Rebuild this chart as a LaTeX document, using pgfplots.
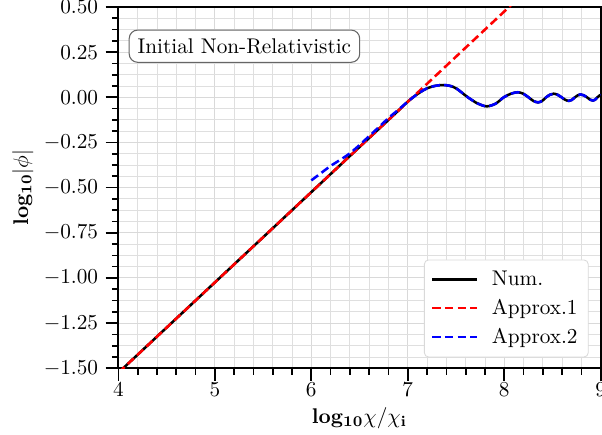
\documentclass[border=0pt]{standalone}
\usepackage{pgfplots}
\pgfplotsset{compat=1.18}
\usetikzlibrary{calc}

% transition and oscillation of the numerical solution
\pgfplotstableread{
x y
4.000 -1.525
5.000 -1.025
6.000 -0.525
6.500 -0.275
6.800 -0.125
6.900 -0.075
7.000 -0.024
7.100 0.018
7.200 0.050
7.290 0.064
7.369 0.068
7.440 0.063
7.506 0.048
7.623 0.000
7.727 -0.035
7.820 -0.050
7.911 -0.035
7.995 0.000
8.070 0.020
8.140 0.028
8.197 0.020
8.251 0.000
8.302 -0.020
8.350 -0.028
8.393 -0.020
8.434 0.000
8.473 0.014
8.511 0.020
8.553 0.014
8.594 0.000
8.633 -0.014
8.670 -0.020
8.702 -0.014
8.732 0.000
8.762 0.011
8.790 0.016
8.825 0.011
8.858 0.000
8.889 -0.013
8.920 -0.018
8.943 -0.013
8.966 0.000
8.988 0.010
9.000 0.013
}\numdata

\pgfplotstableread{
x y
6.000 -0.460
6.100 -0.420
6.200 -0.380
6.400 -0.310
6.600 -0.215
6.800 -0.115
6.900 -0.070
7.000 -0.024
7.100 0.018
7.200 0.050
7.290 0.064
7.369 0.068
7.440 0.063
7.506 0.048
7.623 0.000
7.727 -0.035
7.820 -0.050
7.911 -0.035
7.995 0.000
8.070 0.020
8.140 0.028
8.197 0.020
8.251 0.000
8.302 -0.020
8.350 -0.028
8.393 -0.020
8.434 0.000
8.473 0.014
8.511 0.020
8.553 0.014
8.594 0.000
8.633 -0.014
8.670 -0.020
8.702 -0.014
8.732 0.000
8.762 0.011
8.790 0.016
8.825 0.011
8.858 0.000
8.889 -0.013
8.920 -0.018
8.943 -0.013
8.966 0.000
8.988 0.010
9.000 0.013
}\apptwo

\begin{document}
\begin{tikzpicture}
\begin{axis}[
  scale only axis, width=227pt, height=170pt,
  xmin=4, xmax=9, ymin=-1.5, ymax=0.5,
  xtick={4,5,6,7,8,9},
  ytick={-1.5,-1.25,-1,-0.75,-0.5,-0.25,0,0.25,0.5},
  minor x tick num=4, minor y tick num=3,
  tick label style={font=\fontsize{10}{12}\selectfont},
  xticklabel style={yshift=2.8pt},
  yticklabel style={/pgf/number format/.cd, fixed, fixed zerofill, precision=2},
  grid=both,
  major grid style={gray!30, line width=0.5pt},
  minor grid style={gray!25, line width=0.4pt},
  tick pos=left, tick align=outside,
  major tick length=6pt, minor tick length=3pt,
  every tick/.style={black, line width=0.8pt},
  axis line style={line width=1pt},
  xlabel={$\mathbf{log_{10}}\chi/\chi_{\mathbf{i}}$},
  ylabel={$\mathbf{log_{10}}|\phi|$},
  label style={font=\fontsize{10.5}{12}\selectfont},
  every axis x label/.style={at={(axis description cs:0.5,-0.138)}, anchor=center},
  every axis y label/.style={at={(axis description cs:-0.198,0.5)}, rotate=90, anchor=center},
  legend style={at={(0.975,0.03)}, anchor=south east, draw=gray!30,
    rounded corners=2pt, fill=white, inner sep=3pt, row sep=1pt},
  legend cell align=left,
  legend image code/.code={\draw[#1] (0cm,0cm) -- (0.75cm,0cm); \path (0.9cm,0cm);},
]
\addplot[black, line width=1.2pt, smooth, tension=0.5] table[x=x, y=y] {\numdata};
\addlegendentry{Num.}
\addplot[red, line width=1.2pt, dash pattern=on 4pt off 2pt] coordinates {(4,-1.525) (8.1,0.525)};
\addlegendentry{Approx.1}
\addplot[blue, line width=1.2pt, dash pattern=on 4pt off 2pt, smooth, tension=0.5] table[x=x, y=y] {\apptwo};
\addlegendentry{Approx.2}
\node[draw=black!60, rounded corners=4pt, fill=white, inner sep=4pt, line width=0.5pt]
  at (axis cs:5.307,0.283) {Initial Non-Relativistic};
\coordinate (SW) at (rel axis cs:0,0);
\coordinate (NE) at (rel axis cs:1,1);
\end{axis}
\pgfresetboundingbox
\path[use as bounding box] ($(SW)+(-55.7pt,-31pt)$) rectangle ($(NE)+(0.6pt,3.3pt)$);
\end{tikzpicture}
\end{document}
